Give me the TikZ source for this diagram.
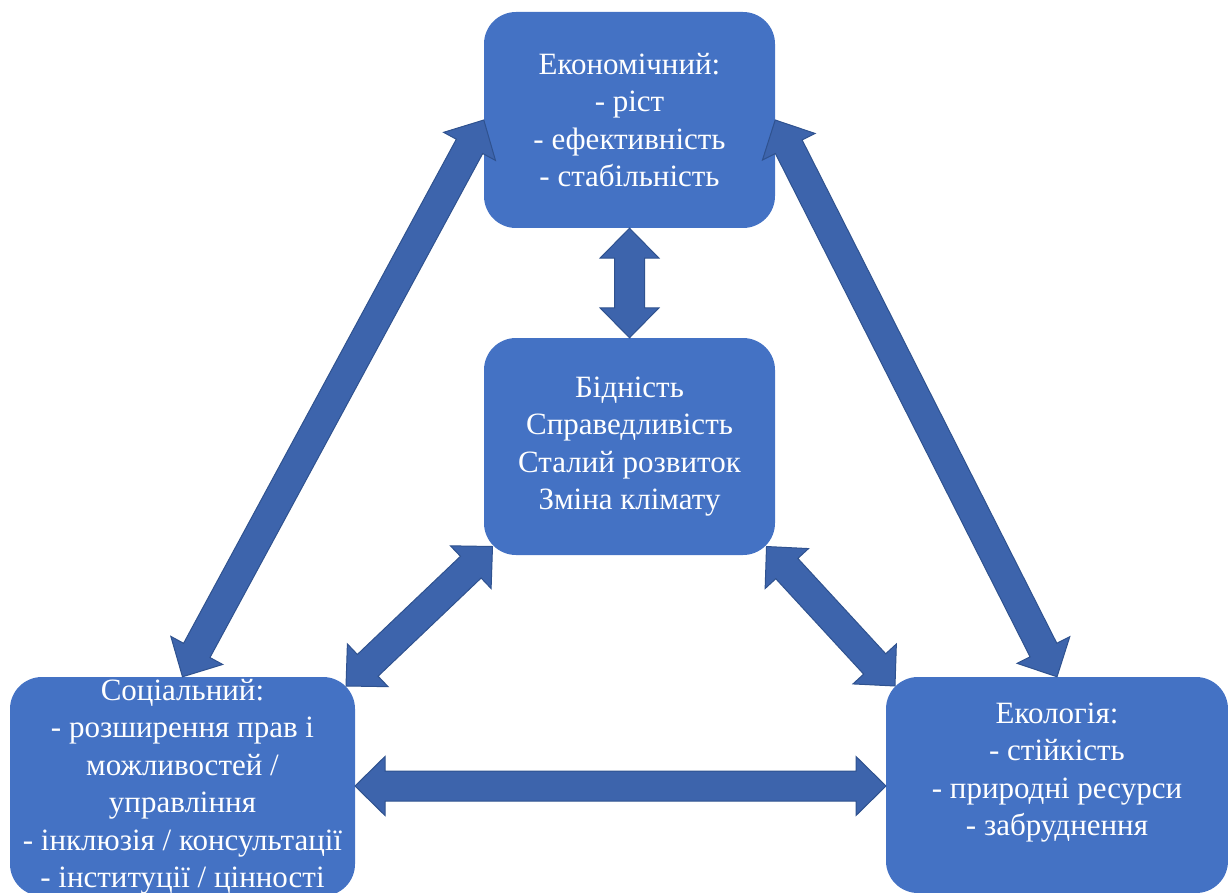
\documentclass[tikz,border=0pt]{standalone}
\usepackage{fontspec}
\setmainfont{Liberation Serif}
\usetikzlibrary{calc}
\definecolor{boxblue}{HTML}{4472C4}
\definecolor{arrfill}{HTML}{3D64AC}
\definecolor{arrdraw}{HTML}{2F528F}
\tikzset{
 box/.style={rectangle, rounded corners=32pt, fill=boxblue, text=white, align=center,
   font=\fontsize{31}{37.5}\selectfont, inner sep=0pt},
 blockarr/.style={fill=arrfill, draw=arrdraw, line width=1pt, line join=miter}
}
\newcommand{\dblarrow}[2]{%
 \coordinate (p1) at ($(#1)!30pt!(#2)$);
 \coordinate (p2) at ($(#2)!30pt!(#1)$);
 \path[blockarr] (#1) -- ($(p1)!29.5pt!90:(#2)$) -- ($(p1)!15pt!90:(#2)$)
   -- ($(p2)!15pt!-90:(#1)$) -- ($(p2)!29.5pt!-90:(#1)$) -- (#2)
   -- ($(p2)!29.5pt!90:(#1)$) -- ($(p2)!15pt!90:(#1)$)
   -- ($(p1)!15pt!-90:(#2)$) -- ($(p1)!29.5pt!-90:(#2)$) -- cycle;
}
\begin{document}
\begin{tikzpicture}[x=1pt,y=-1pt]
\useasboundingbox (0,0) rectangle (1228,893);
\node[box, minimum width=291pt, minimum height=216pt] (E) at (629.5,120)
  {Економічний:\\- ріст\\- ефективність\\- стабільність};
\node[box, minimum width=291pt, minimum height=217pt] (C) at (629.5,446.5)
  {Бідність\\Справедливість\\Сталий розвиток\\Зміна клімату};
\node[box, minimum width=345pt, minimum height=219pt] (S) at (182.5,786.5)
  {Соціальний:\\- розширення прав і\\можливостей /\\управління\\- інклюзія / консультації\\- інституції / цінності};
\node[box, minimum width=342pt, minimum height=216pt] (Eco) at (1057,785)
  {\raisebox{13pt}[\height][\depth]{\begin{tabular}{@{}c@{}}Екологія:\\- стійкість\\- природні ресурси\\- забруднення\end{tabular}}};
\coordinate (CSW) at (492.5,546.5);
\coordinate (CSE) at (766.5,546.5);
\coordinate (SNE) at (346,686);
\coordinate (EcoNW) at (895,686);
\coordinate (SE) at (355,786);
\coordinate (EcoW) at (886,786);
\dblarrow{E.south}{C.north}
\dblarrow{E.west}{S.north}
\dblarrow{E.east}{Eco.north}
\dblarrow{CSW}{SNE}
\dblarrow{CSE}{EcoNW}
\dblarrow{SE}{EcoW}
\end{tikzpicture}
\end{document}
